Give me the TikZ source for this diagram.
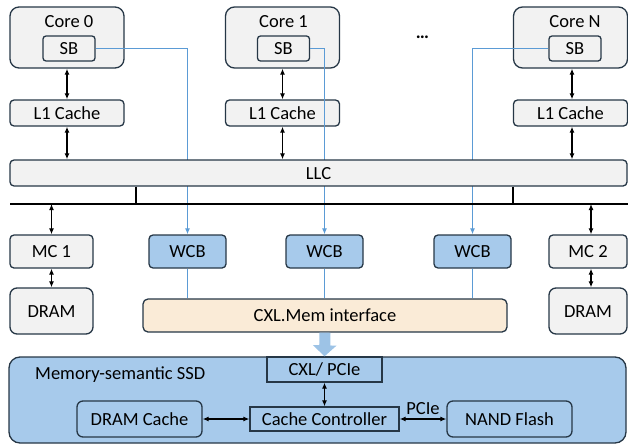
\documentclass[tikz,border=0pt]{standalone}
\usepackage{fontspec}
\setmainfont{Carlito}
\usetikzlibrary{arrows.meta}
\definecolor{bord}{HTML}{263746}
\definecolor{grayf}{HTML}{F2F2F2}
\definecolor{bluef}{HTML}{A7CAEB}
\definecolor{bluel}{HTML}{5B9BD5}
\definecolor{bigarr}{HTML}{9DC3E6}
\definecolor{beige}{HTML}{FAEBD7}
\begin{document}
\begin{tikzpicture}[x=1pt,y=-1pt,
  txt/.style={inner sep=0pt, text height=12pt, text depth=0pt, font=\fontsize{18.5}{22}\selectfont},
  plaintxt/.style={inner sep=0pt, font=\fontsize{18.5}{22}\selectfont},
  box/.style={txt, draw=bord, line width=1.3pt, fill=grayf, rounded corners=4pt},
  corebox/.style={draw=bord, line width=1.3pt, fill=grayf, rounded corners=9pt, minimum width=114pt, minimum height=61pt, inner sep=0pt},
  sbbox/.style={box, rounded corners=3pt, minimum width=52pt, minimum height=25pt},
  l1box/.style={box, minimum width=114pt, minimum height=26pt},
  wcbbox/.style={box, fill=bluef, minimum width=77pt, minimum height=33pt},
  mcbox/.style={box, minimum height=33pt},
  drambox/.style={box, rounded corners=7pt, minimum height=46pt},
  ssdbox/.style={box, fill=bluef},
  dbl/.style={line width=1.3pt, black, {Latex[length=6pt,width=5pt]}-{Latex[length=6pt,width=5pt]}},
  bline/.style={line width=1.2pt, bluel},
  barrow/.style={bline, -{Latex[length=6pt,width=5pt]}},
  busline/.style={line width=1.5pt, black}
]
\useasboundingbox (0,0) rectangle (628,444);

% cores
\node[corebox] (core0) at (67,37.5) {};
\node[corebox] (core1) at (282.5,37.5) {};
\node[corebox] (coreN) at (570.5,37.5) {};
\node[txt] (core0t) at (69,22) {Core 0};
\node[txt] (core1t) at (283.5,22) {Core 1};
\node[txt] (coreNt) at (575,22) {Core N};
\node[sbbox] (sb0) at (69,48.5) {SB};
\node[sbbox] (sb1) at (283.5,48.5) {SB};
\node[sbbox] (sbN) at (575,48.5) {SB};
\node[plaintxt, font=\fontsize{18.5}{22}\selectfont\bfseries, anchor=base] (dots) at (422.5,38) {…};

% L1
\node[l1box] (l1a) at (67,113) {L1 Cache};
\node[l1box] (l1b) at (282.5,113) {L1 Cache};
\node[l1box] (l1N) at (570.5,113) {L1 Cache};

\draw[dbl] (core0.south) -- (l1a.north);
\draw[dbl] (core1.south) -- (l1b.north);
\draw[dbl] ([xshift=1.5pt]coreN.south) -- ([xshift=1.5pt]l1N.north);

% WCB
\node[wcbbox] (wcb1) at (187.5,251.5) {WCB};
\node[wcbbox] (wcb2) at (324.5,251.5) {WCB};
\node[wcbbox] (wcb3) at (472.5,251.5) {WCB};

% blue lines from SB to WCB
\draw[barrow] (sb0.east) -| (wcb1.north);
\draw[barrow] (sb1.east) -| (wcb2.north);
\draw[barrow] (sbN.west) -| (wcb3.north);

% LLC
\node[box, minimum width=617pt, minimum height=26pt] (llc) at (318.5,173) {LLC};
\draw[dbl] (l1a.south) -- (l1a.south |- llc.north);
\draw[dbl] (l1b.south) -- (l1b.south |- llc.north);
\draw[dbl] ([xshift=1.5pt]l1N.south) -- ([xshift=1.5pt]l1N.south |- llc.north);

% bus
\coordinate (busL) at (10,204);
\coordinate (busR) at (628,204);
\coordinate (stub1) at (136,204);
\coordinate (stub2) at (513,204);
\draw[busline] (busL) -- (busR);
\draw[line width=1.3pt] (stub1 |- llc.south) -- (stub1);
\draw[line width=1.3pt] (stub2 |- llc.south) -- (stub2);

% MCs and DRAM
\node[mcbox, minimum width=83pt] (mc1) at (51.5,251.5) {MC 1};
\node[mcbox, minimum width=78pt] (mc2) at (588,251.5) {MC 2};
\node[drambox, minimum width=83pt] (dram1) at (51.5,311) {DRAM};
\node[drambox, minimum width=78pt] (dram2) at (588,311) {DRAM};
\draw[dbl] (mc1.north |- busL) -- (mc1.north);
\draw[dbl] ([xshift=3pt]mc2.north |- busR) -- ([xshift=3pt]mc2.north);
\draw[dbl] (mc1.south) -- (dram1.north);
\draw[dbl] ([xshift=3pt]mc2.south) -- ([xshift=3pt]dram2.north);

% CXL.Mem interface
\node[box, fill=beige, rounded corners=5pt, minimum width=364pt, minimum height=33pt] (cxl) at (325,315.5) {CXL.Mem interface};
\draw[bline] (wcb1.south) -- (wcb1.south |- cxl.north);
\draw[bline] (wcb2.south) -- (wcb2.south |- cxl.north);
\draw[bline] (wcb3.south) -- (wcb3.south |- cxl.north);

% SSD
\node[box, fill=bluef, rounded corners=11pt, minimum width=617pt, minimum height=86pt] (ssd) at (317.5,400) {};
\node[plaintxt, anchor=base west] (ssdt) at (35,379) {Memory-semantic SSD};
\node[ssdbox, rounded corners=0pt, minimum width=115pt, minimum height=25pt] (cxlp) at (324.5,369.5) {CXL/ PCIe};
\node[ssdbox, rounded corners=0pt, minimum width=149pt, minimum height=24pt] (cc) at (324.5,419) {Cache Controller};
\node[ssdbox, rounded corners=6pt, minimum width=125pt, minimum height=36pt] (dc) at (139.5,419) {DRAM Cache};
\node[ssdbox, rounded corners=6pt, minimum width=125pt, minimum height=36pt] (nand) at (509.5,419) {NAND Flash};
\node[txt] (pcie) at (423,408.5) {PCIe};
\draw[dbl] (cxlp.south) -- (cc.north);
\draw[dbl] (dc.east) -- (cc.west);
\draw[dbl] (cc.east) -- (nand.west);

% big arrow
\draw[bigarr, line width=11pt, -{Triangle[length=11pt,width=23pt]}] (cxl.south) -- (cxlp.north);
\end{tikzpicture}
\end{document}
